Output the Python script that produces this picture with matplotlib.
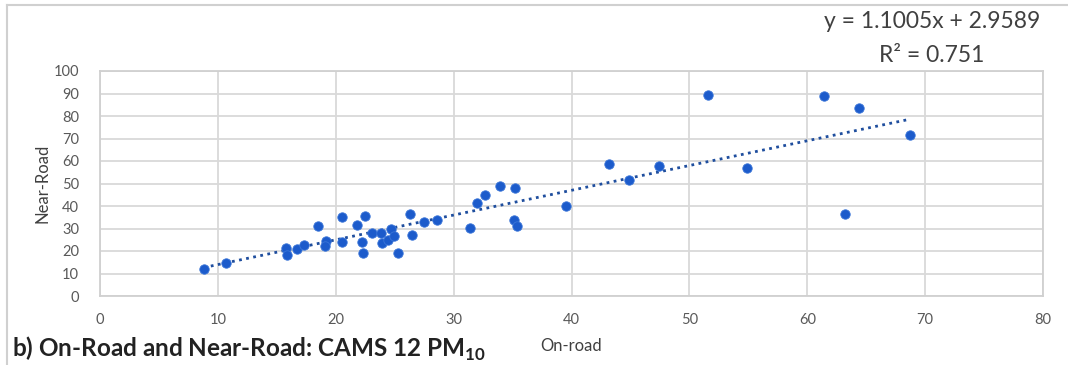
import numpy as np
import matplotlib.pyplot as plt
from matplotlib.lines import Line2D

plt.rcParams['font.family'] = ['Lato', 'DejaVu Sans']
plt.rcParams['mathtext.fontset'] = 'custom'
plt.rcParams['mathtext.rm'] = 'Lato'
plt.rcParams['mathtext.bf'] = 'Lato:bold'

# On-road vs near-road values
on_road = [8.8, 10.7, 15.8, 15.9, 16.7, 17.3, 18.5, 19.2, 19.1, 20.5,
           20.5, 21.8, 22.5, 22.2, 22.3, 23.1, 23.8, 23.9, 24.4, 24.7,
           24.9, 25.3, 26.3, 26.5, 27.5, 28.6, 31.4, 32.0, 32.7, 33.9,
           35.2, 35.1, 35.4, 39.5, 43.2, 44.9, 47.4, 51.6, 54.9, 61.4,
           64.4, 63.2, 68.7]
near_road = [11.9, 14.7, 21.2, 18.2, 20.9, 22.7, 31.1, 24.4, 22.4, 35.3,
             23.9, 31.6, 35.6, 23.9, 19.1, 28.1, 28.1, 23.4, 24.9, 29.6,
             26.7, 19.1, 36.3, 27.1, 32.7, 33.8, 30.4, 41.5, 45.0, 48.7,
             48.0, 33.6, 31.1, 39.9, 58.7, 51.6, 57.8, 89.2, 56.7, 88.9,
             83.4, 36.6, 71.4]

# trendline as printed on the chart
slope = 1.1005
intercept = 2.9589
r2 = 0.751

x_ticks = [0, 10, 20, 30, 40, 50, 60, 70, 80]
y_ticks = [0, 10, 20, 30, 40, 50, 60, 70, 80, 90, 100]

fig = plt.figure(figsize=(10.68, 3.65), dpi=100)
ax = fig.add_axes([100/1068, 1 - 296/365, 943/1068, 225/365])

ax.scatter(on_road, near_road, s=46, color='#1c5bcb', edgecolors='#3a75d8',
           linewidths=0.6, zorder=3)

xs = np.array([min(on_road), max(on_road)])
ax.plot(xs, slope * xs + intercept, linestyle=(0, (1, 1.6)), color='#1f4e9e',
        linewidth=2.0, zorder=2)

ax.set_xlim(0, 80)
ax.set_ylim(0, 100)
ax.set_xticks(x_ticks)
ax.set_yticks(y_ticks)
ax.grid(True, color='#d9d9d9', linewidth=1.3)
ax.set_axisbelow(True)
for sp in ax.spines.values():
    sp.set_color('#d0d0d0')
    sp.set_linewidth(1.3)
ax.tick_params(length=0, labelsize=10.5, labelcolor='#595959', pad=12)
ax.tick_params(axis='y', pad=15)

ax.set_xlabel('On-road', fontsize=12, color='#404040', labelpad=8)
ax.set_ylabel('Near-Road', fontsize=12, color='#404040', labelpad=2)

fig.text(932/1068, 1 - 22/365, 'y = %.4fx + %.4f' % (slope, intercept),
         fontsize=16.5, color='#404040', ha='center', va='center')
fig.text(932/1068, 1 - 55/365, 'R² = %.3f' % r2,
         fontsize=16.5, color='#404040', ha='center', va='center')

fig.text(12/1068, 1 - 357/365, r'b) On-Road and Near-Road: CAMS 12 PM$_{\mathbf{10}}$',
         fontsize=17.5, fontweight='bold', color='#222222', ha='left', va='baseline')

# light frame of the surrounding chart area
fig.add_artist(Line2D([7/1068, 7/1068], [0, 1 - 5/365], transform=fig.transFigure,
                      color='#d0d0d0', linewidth=1.5))
fig.add_artist(Line2D([7/1068, 1], [1 - 5/365, 1 - 5/365], transform=fig.transFigure,
                      color='#d0d0d0', linewidth=1.5))

fig.savefig('out.png', dpi=100)
